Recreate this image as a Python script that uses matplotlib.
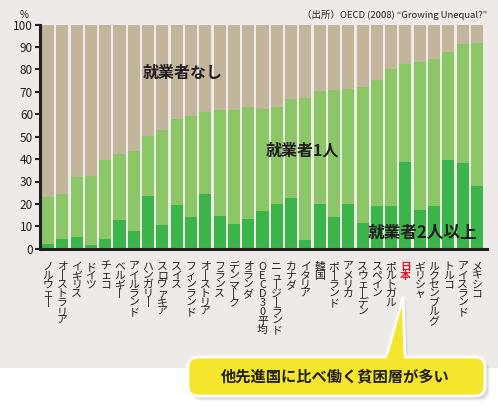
import matplotlib
matplotlib.use('Agg')
import matplotlib.pyplot as plt
from matplotlib.patches import FancyBboxPatch, Polygon, Rectangle

plt.rcParams['font.family'] = ['Noto Sans CJK JP', 'DejaVu Sans']

# Countries, left to right
countries = ['ノルウェー', 'オーストラリア', 'イギリス', 'ドイツ', 'チェコ', 'ベルギー',
             'アイルランド', 'ハンガリー', 'スロヴァキア', 'スイス', 'フィンランド',
             'オーストリア', 'フランス', 'デンマーク', 'オランダ', 'OECD30平均',
             'ニュージーランド', 'カナダ', 'イタリア', '韓国', 'ポーランド', 'アメリカ',
             'スウェーデン', 'スペイン', 'ポルトガル', '日本', 'ギリシャ', 'ルクセンブルグ',
             'トルコ', 'アイスランド', 'メキシコ']

# share of poor households with at least one worker (%)
with_worker = [23.1, 24.4, 32.0, 32.4, 39.6, 42.3, 43.6, 50.3, 53.0, 57.9, 59.2,
               61.0, 62.1, 62.1, 63.2, 62.4, 63.2, 66.8, 67.3, 70.4, 70.8, 71.3,
               72.2, 75.3, 80.2, 82.4, 83.3, 84.7, 87.8, 91.4, 91.8]
# share with two or more workers (%)
two_plus = [2.1, 4.3, 5.2, 1.6, 4.3, 12.8, 7.9, 23.5, 10.6, 19.5, 14.1,
            24.4, 14.6, 11.0, 13.2, 16.8, 19.9, 22.6, 3.9, 19.9, 14.1, 19.9,
            11.5, 19.0, 19.0, 38.7, 17.3, 19.0, 39.6, 38.2, 28.0]

one_worker = [w - t for w, t in zip(with_worker, two_plus)]
no_worker = [100 - w for w in with_worker]

bg = '#EEEAE8'
tan = '#C3B59B'
light_green = '#8BC766'
dark_green = '#3BB54A'
text_dark = '#231F20'

fig = plt.figure(figsize=(4.98, 4.12), dpi=100, facecolor=bg)
# white strip along the bottom
fig.patches.append(Rectangle((0, 0), 1, 44 / 412, transform=fig.transFigure,
                             facecolor='white', edgecolor='none', zorder=0))

ax = fig.add_axes([40 / 498, 163.3 / 412, 447 / 498, 224 / 412])
ax.set_facecolor(bg)

x = list(range(len(countries)))
w = 0.84
ax.bar(x, two_plus, width=w, color=dark_green, linewidth=0)
ax.bar(x, one_worker, width=w, bottom=two_plus, color=light_green, linewidth=0)
ax.bar(x, no_worker, width=w, bottom=with_worker, color=tan, linewidth=0)

ax.set_xlim(-0.56, 30.7)
ax.set_ylim(0, 100)
ax.set_yticks(range(0, 101, 10))
ax.set_xticks([])
for s in ['top', 'right']:
    ax.spines[s].set_visible(False)
for s in ['left', 'bottom']:
    ax.spines[s].set_linewidth(2.2)
    ax.spines[s].set_color(text_dark)
ax.tick_params(axis='y', length=3.5, width=1.5, pad=1.5, labelsize=8.5,
               colors=text_dark)

# segment labels inside the chart
ax.text(9.4, 78.4, '就業者なし', ha='center', va='center', fontsize=11.5,
        fontweight='bold', color=text_dark)
ax.text(17.8, 44, '就業者1人', ha='center', va='center', fontsize=11.5,
        fontweight='bold', color=text_dark)
ax.text(26.2, 7, '就業者2人以上', ha='center', va='center', fontsize=12,
        fontweight='bold', color=text_dark)

# vertical country labels
for i, name in enumerate(countries):
    label = '\n'.join(name.replace('ー', '丨'))
    is_japan = name == '日本'
    ax.annotate(label, xy=(i, 0), xytext=(0, -9.5), textcoords='offset points',
                ha='center', va='top', fontsize=7.8, linespacing=0.88,
                color='#D7182A' if is_japan else text_dark,
                fontweight='bold' if is_japan else 'normal',
                annotation_clip=False)

fig.text(24 / 498, 1 - 15 / 412, '%', ha='center', va='center', fontsize=7,
         color=text_dark)
fig.text(487 / 498, 1 - 15 / 412, '（出所）OECD (2008) “Growing Unequal?”',
         ha='right', va='center', fontsize=6.8, color=text_dark)

# callout box
yellow = '#F4E62C'
x0, y0, x1, y1 = 188, 16, 485, 55
for k, a in [(5, 0.06), (4, 0.07), (3, 0.08), (2, 0.09)]:
    fig.patches.append(FancyBboxPatch((x0 + k, y0 - k), x1 - x0, y1 - y0,
                                      boxstyle='round,pad=0,rounding_size=10',
                                      transform=None, facecolor='#555555',
                                      edgecolor='none', alpha=a, zorder=5))
tri = [(386, 54), (405, 54), (403, 115)]
fig.patches.append(Polygon([(p[0] + 3, p[1] - 2) for p in tri], closed=True,
                           transform=None, facecolor='#555555', edgecolor='none',
                           alpha=0.12, zorder=5))
fig.patches.append(Polygon(tri, closed=True, transform=None, facecolor=yellow,
                           edgecolor='white', linewidth=2, zorder=6))
fig.patches.append(FancyBboxPatch((x0, y0), x1 - x0, y1 - y0,
                                  boxstyle='round,pad=0,rounding_size=10',
                                  transform=None, facecolor=yellow,
                                  edgecolor='white', linewidth=2, zorder=7))
fig.patches.append(Polygon([(387.5, 50), (404, 50), (403.7, 58), (387.2, 58)],
                           closed=True, transform=None, facecolor=yellow,
                           edgecolor='none', zorder=8))
fig.text((x0 + x1) / 2 / 498 - 0.002, (y0 + y1) / 2 / 412, '他先進国に比べ働く貧困層が多い',
         ha='center', va='center', fontsize=11, fontweight='bold',
         color=text_dark, zorder=9)

fig.savefig('out.png', dpi=100, facecolor=bg)
